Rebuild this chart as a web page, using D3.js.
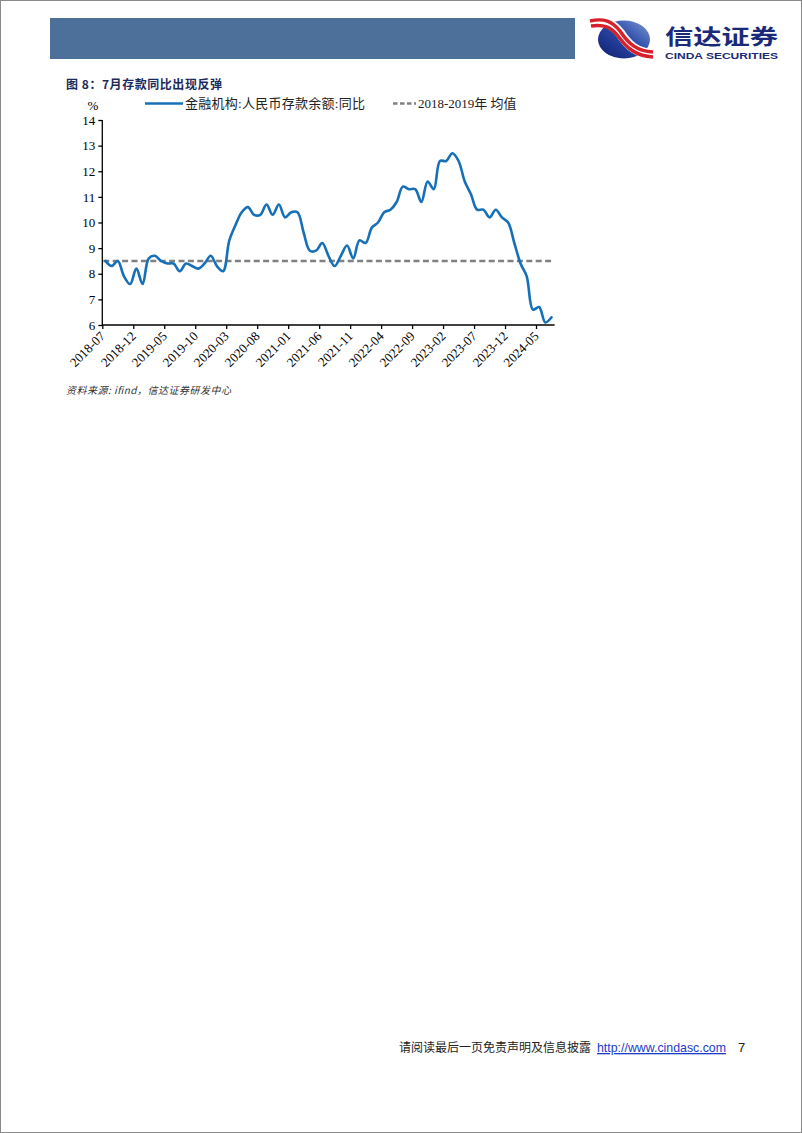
<!DOCTYPE html>
<html>
<head>
<meta charset="utf-8">
<script src="https://cdn.jsdelivr.net/npm/d3@7/dist/d3.min.js"></script>
<style>
  html, body { margin: 0; padding: 0; background: #fff; }
  svg { display: block; }
</style>
</head>
<body>
<svg id="page" width="802" height="1133"></svg>
<script>
// ---------- DATA ----------
const months = [
  "2018-07","2018-08","2018-09","2018-10","2018-11","2018-12",
  "2019-01","2019-02","2019-03","2019-04","2019-05","2019-06","2019-07","2019-08","2019-09","2019-10","2019-11","2019-12",
  "2020-01","2020-02","2020-03","2020-04","2020-05","2020-06","2020-07","2020-08","2020-09","2020-10","2020-11","2020-12",
  "2021-01","2021-02","2021-03","2021-04","2021-05","2021-06","2021-07","2021-08","2021-09","2021-10","2021-11","2021-12",
  "2022-01","2022-02","2022-03","2022-04","2022-05","2022-06","2022-07","2022-08","2022-09","2022-10","2022-11","2022-12",
  "2023-01","2023-02","2023-03","2023-04","2023-05","2023-06","2023-07","2023-08","2023-09","2023-10","2023-11","2023-12",
  "2024-01","2024-02","2024-03","2024-04","2024-05","2024-06","2024-07"
];
const depositYoY = [
  8.5, 8.3, 8.5, 7.9, 7.6, 8.2,
  7.6, 8.6, 8.7, 8.5, 8.4, 8.4, 8.1, 8.4, 8.3, 8.2, 8.4, 8.7,
  8.3, 8.1, 9.3, 9.9, 10.4, 10.6, 10.3, 10.3, 10.7, 10.3, 10.7, 10.2,
  10.4, 10.4, 9.6, 8.9, 8.9, 9.2, 8.7, 8.3, 8.7, 9.1, 8.6, 9.3,
  9.2, 9.8, 10.0, 10.4, 10.5, 10.8, 11.4, 11.3, 11.3, 10.8, 11.6, 11.3,
  12.4, 12.4, 12.7, 12.4, 11.6, 11.1, 10.5, 10.5, 10.2, 10.5, 10.2, 10.0,
  9.2, 8.4, 7.9, 6.6, 6.7, 6.1, 6.3
];
const avg2018_2019 = 8.5;
const yTicks = [6, 7, 8, 9, 10, 11, 12, 13, 14];
const xTickLabels = ["2018-07","2018-12","2019-05","2019-10","2020-03","2020-08","2021-01","2021-06",
                     "2021-11","2022-04","2022-09","2023-02","2023-07","2023-12","2024-05"];
const seriesNames = ["金融机构:人民币存款余额:同比", "2018-2019年 均值"];
const titleText = "图 8：7月存款同比出现反弹";
const sourceText = "资料来源: ifind，信达证券研发中心";

// ---------- PAGE ----------
const svg = d3.select("#page");
svg.append("rect").attr("x", 0.5).attr("y", 0.5).attr("width", 801).attr("height", 1132)
  .attr("fill", "#fff").attr("stroke", "#8a8a8a").attr("stroke-width", 1);

// header bar
svg.append("rect").attr("x", 50).attr("y", 18).attr("width", 525).attr("height", 41).attr("fill", "#4C7099");

// logo emblem
const defs = svg.append("defs");
const g1 = defs.append("linearGradient").attr("id", "lg").attr("x1", "0").attr("y1", "1").attr("x2", "1").attr("y2", "0");
g1.append("stop").attr("offset", "0").attr("stop-color", "#0f1c6e");
g1.append("stop").attr("offset", "0.55").attr("stop-color", "#2b4aa8");
g1.append("stop").attr("offset", "1").attr("stop-color", "#7d9bd6");
const logo = svg.append("g");
logo.append("ellipse").attr("cx", 624).attr("cy", 39.5).attr("rx", 26).attr("ry", 19).attr("fill", "url(#lg)");
logo.append("path")
  .attr("d", "M590,23 C604,20 612,23 620,33 C628,45 636,53 653,54")
  .attr("fill", "none").attr("stroke", "#fff").attr("stroke-width", 10);
logo.append("path")
  .attr("d", "M590,21 C604,18 612,21 620,31 C628,43 636,51 653,52")
  .attr("fill", "none").attr("stroke", "#d8202a").attr("stroke-width", 3.4);
logo.append("path")
  .attr("d", "M591,26 C604,24 611,27 618,36 C626,47 635,56 653,57")
  .attr("fill", "none").attr("stroke", "#d8202a").attr("stroke-width", 3.4);
svg.append("text").attr("x", 665).attr("y", 43.5).attr("font-family", "Noto Sans CJK SC")
  .attr("font-weight", "bold").attr("font-size", 21).attr("fill", "#1b2a78")
  .attr("textLength", 113).attr("lengthAdjust", "spacingAndGlyphs").text("信达证券");
svg.append("text").attr("x", 665).attr("y", 58.5).attr("font-family", "Liberation Sans, Arial")
  .attr("font-weight", "bold").attr("font-size", 9).attr("fill", "#1b2a78")
  .attr("textLength", 113).attr("lengthAdjust", "spacingAndGlyphs").text("CINDA SECURITIES");

// title
svg.append("text").attr("x", 66).attr("y", 89).attr("font-family", "Noto Sans CJK SC")
  .attr("font-weight", "bold").attr("font-size", 12).attr("fill", "#1c2a5a")
  .attr("textLength", 156).attr("lengthAdjust", "spacing").text(titleText);

// ---------- CHART ----------
const x = d3.scaleLinear().domain([0, months.length]).range([102.3, 554.6]);
const y = d3.scaleLinear().domain([6, 14]).range([325, 120]);
const serif = "Liberation Serif, Times New Roman, serif";

// y axis
const yAxis = svg.append("g").attr("transform", `translate(${x(0)},0)`)
  .call(d3.axisLeft(y).tickValues(yTicks).tickSize(4).tickPadding(3).tickFormat(d3.format("d")));
yAxis.selectAll("text").attr("font-family", serif).attr("font-size", 13).attr("fill", "#000");
yAxis.selectAll("line, path").attr("stroke", "#000").attr("stroke-width", 1.3);
yAxis.select(".domain").attr("d", `M0,${y(14)}V${y(6)}`);

// x axis
const xTickIdx = xTickLabels.map(l => months.indexOf(l));
const xAxis = svg.append("g").attr("transform", `translate(0,${y(6)})`)
  .call(d3.axisBottom(x).tickValues(xTickIdx).tickSize(4).tickFormat(i => months[i]));
xAxis.selectAll("line, path").attr("stroke", "#000").attr("stroke-width", 1.3);
xAxis.select(".domain").attr("d", `M${x(0)},0H${x(months.length)}`);
xAxis.selectAll("text")
  .attr("font-family", serif).attr("font-size", 13).attr("fill", "#000")
  .attr("text-anchor", "end").attr("dy", null).attr("y", null)
  .attr("transform", "translate(3,12) rotate(-45)");

// "%" unit label
svg.append("text").attr("x", 93).attr("y", 110).attr("text-anchor", "middle")
  .attr("font-family", serif).attr("font-size", 13).text("%");

// average dashed line
svg.append("line")
  .attr("x1", x(0) + 1).attr("x2", x(months.length - 0.5))
  .attr("y1", y(avg2018_2019)).attr("y2", y(avg2018_2019))
  .attr("stroke", "#808080").attr("stroke-width", 2.5).attr("stroke-dasharray", "6,3.4");

// main line
const line = d3.line().x((d, i) => x(i + 0.5)).y(d => y(d)).curve(d3.curveCatmullRom.alpha(0.5));
svg.append("path").datum(depositYoY).attr("d", line)
  .attr("fill", "none").attr("stroke", "#1670B8").attr("stroke-width", 2.6)
  .attr("stroke-linejoin", "round").attr("stroke-linecap", "round");

// legend
const leg = svg.append("g");
leg.append("line").attr("x1", 145).attr("x2", 183).attr("y1", 103.5).attr("y2", 103.5)
  .attr("stroke", "#1670B8").attr("stroke-width", 2.6);
leg.append("text").attr("x", 185).attr("y", 108).attr("font-family", "Liberation Serif, Noto Sans CJK SC")
  .attr("font-size", 13).attr("fill", "#222").attr("textLength", 180).attr("lengthAdjust", "spacing")
  .text(seriesNames[0]);
leg.append("line").attr("x1", 393).attr("x2", 416).attr("y1", 103.5).attr("y2", 103.5)
  .attr("stroke", "#808080").attr("stroke-width", 2.5).attr("stroke-dasharray", "4.5,2.5");
leg.append("text").attr("x", 418).attr("y", 108).attr("font-family", "Liberation Serif, Noto Sans CJK SC")
  .attr("font-size", 13).attr("fill", "#222").text(seriesNames[1]);

// source
svg.append("text").attr("x", 66).attr("y", 394).attr("font-family", "Noto Sans CJK SC")
  .attr("font-style", "italic").attr("font-size", 10).attr("fill", "#333")
  .attr("textLength", 165).attr("lengthAdjust", "spacing").text(sourceText);

// footer
svg.append("text").attr("x", 399).attr("y", 1052).attr("font-family", "Noto Sans CJK SC")
  .attr("font-size", 12).attr("fill", "#222").attr("textLength", 192).attr("lengthAdjust", "spacingAndGlyphs")
  .text("请阅读最后一页免责声明及信息披露");
svg.append("text").attr("x", 597).attr("y", 1052).attr("font-family", "Liberation Sans, Arial")
  .attr("font-size", 13).attr("fill", "#1a3cc8").attr("text-decoration", "underline")
  .attr("textLength", 129).attr("lengthAdjust", "spacingAndGlyphs").text("http://www.cindasc.com");
svg.append("text").attr("x", 738).attr("y", 1052).attr("font-family", "Liberation Sans, Arial")
  .attr("font-size", 13).attr("fill", "#222").text("7");
</script>
</body>
</html>
